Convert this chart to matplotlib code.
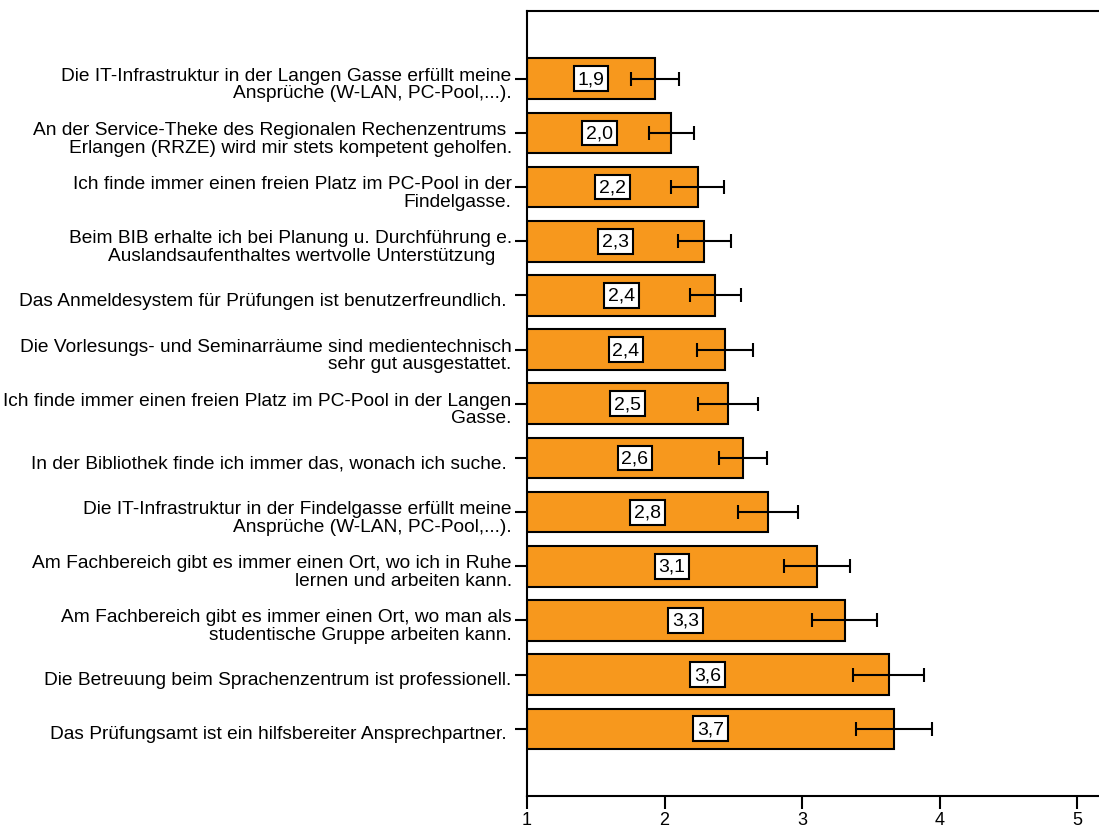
import matplotlib
matplotlib.use("Agg")
import matplotlib.pyplot as plt
import matplotlib.transforms as mtransforms
import numpy as np

plt.rcParams['font.family'] = ['Liberation Sans', 'DejaVu Sans']

labels = [
    "Die IT-Infrastruktur in der Langen Gasse erfüllt meine\nAnsprüche (W-LAN, PC-Pool,...).",
    "An der Service-Theke des Regionalen Rechenzentrums \nErlangen (RRZE) wird mir stets kompetent geholfen.",
    "Ich finde immer einen freien Platz im PC-Pool in der\nFindelgasse.",
    "Beim BIB erhalte ich bei Planung u. Durchführung e.\nAuslandsaufenthaltes wertvolle Unterstützung   ",
    "Das Anmeldesystem für Prüfungen ist benutzerfreundlich. ",
    "Die Vorlesungs- und Seminarräume sind medientechnisch\nsehr gut ausgestattet.",
    "Ich finde immer einen freien Platz im PC-Pool in der Langen\nGasse.",
    "In der Bibliothek finde ich immer das, wonach ich suche. ",
    "Die IT-Infrastruktur in der Findelgasse erfüllt meine\nAnsprüche (W-LAN, PC-Pool,...).",
    "Am Fachbereich gibt es immer einen Ort, wo ich in Ruhe\nlernen und arbeiten kann.",
    "Am Fachbereich gibt es immer einen Ort, wo man als\nstudentische Gruppe arbeiten kann.",
    "Die Betreuung beim Sprachenzentrum ist professionell.",
    "Das Prüfungsamt ist ein hilfsbereiter Ansprechpartner. ",
]
means = [1.93, 2.05, 2.24, 2.29, 2.37, 2.44, 2.46, 2.57, 2.75, 3.11, 3.31, 3.63, 3.67]
errors = [0.175, 0.166, 0.196, 0.193, 0.188, 0.202, 0.22, 0.175, 0.218, 0.239, 0.235, 0.258, 0.275]
value_text = ["1,9", "2,0", "2,2", "2,3", "2,4", "2,4", "2,5", "2,6", "2,8", "3,1", "3,3", "3,6", "3,7"]

fig = plt.figure(figsize=(10.99, 8.29), dpi=100)
ax = fig.add_axes([527 / 1099, 32 / 829, 572 / 1099, 785 / 829])

y = np.arange(len(means))
widths = np.array(means) - 1
ax.barh(y, widths, left=1, height=0.75, color='#F7981D', edgecolor='black', linewidth=1.5)
ax.errorbar(means, y, xerr=errors, fmt='none', ecolor='black', elinewidth=1.5,
            capsize=5, capthick=1.5)

# value boxes in the middle of each bar
for yi, m, t in zip(y, means, value_text):
    ax.text((1 + m) / 2, yi, t, ha='center', va='center', fontsize=14,
            bbox=dict(boxstyle='square,pad=0.2', fc='white', ec='black', lw=1.5))

ax.set_xlim(1, 1 + 572 / 137.5)
ax.set_ylim(len(means) - 1 + 1.24, -1.25)
ax.set_xticks([1, 2, 3, 4, 5])
ax.set_xticklabels(['1', '2', '3', '4', '5'], fontsize=13)
ax.set_yticks(y)
ax.set_yticklabels(labels, fontsize=13.8, linespacing=1.05)
ax.tick_params(axis='both', direction='out', length=9, width=1.5, pad=2)
ax.spines['right'].set_visible(False)
for s in ['left', 'top', 'bottom']:
    ax.spines[s].set_linewidth(1.5)

shift = mtransforms.ScaledTranslation(0, -3 / 100, fig.dpi_scale_trans)
for lab in ax.get_yticklabels():
    lab.set_transform(lab.get_transform() + shift)

fig.savefig('out.png', dpi=100)
